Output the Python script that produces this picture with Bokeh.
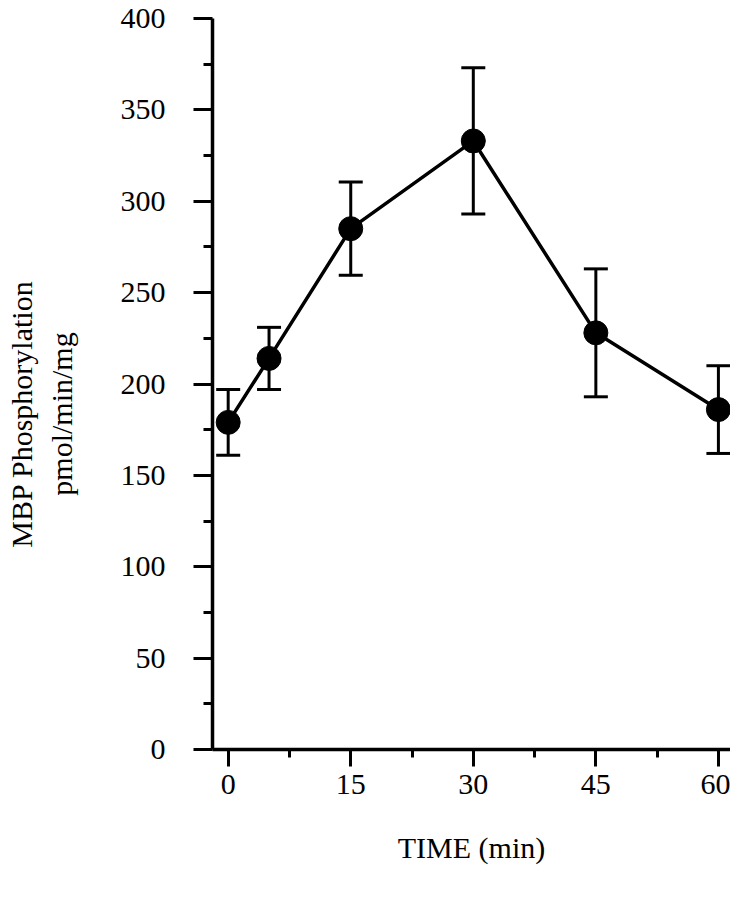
from bokeh.plotting import figure
from bokeh.models import ColumnDataSource, Whisker, TeeHead, FixedTicker, Range1d
from bokeh.embed import file_html
from bokeh.resources import INLINE

# Data
time_min = [0, 5, 15, 30, 45, 60]
mbp = [179, 214, 285, 333, 228, 186]
err = [18, 17, 25.5, 40, 35, 24]

x_ticks = [0, 15, 30, 45, 60]
x_minor = [7.5, 22.5, 37.5, 52.5]
y_ticks = [0, 50, 100, 150, 200, 250, 300, 350, 400]
y_minor = [25, 75, 125, 175, 225, 275, 325, 375]

upper = [m + e for m, e in zip(mbp, err)]
lower = [m - e for m, e in zip(mbp, err)]
src = ColumnDataSource(dict(x=time_min, y=mbp, upper=upper, lower=lower))

FONT = "Liberation Serif"

p = figure(width=730, height=889, output_backend="svg", toolbar_location=None,
           x_range=Range1d(-1.92, 61.48), y_range=Range1d(0, 400),
           min_border_left=212, min_border_top=18, min_border_right=0,
           min_border_bottom=140)
p.outline_line_color = None
p.xgrid.grid_line_color = None
p.ygrid.grid_line_color = None

p.line('x', 'y', source=src, line_width=3.5, line_color="black")
w = Whisker(base='x', upper='upper', lower='lower', source=src, dimension="height",
            line_width=3, line_color="black",
            upper_head=TeeHead(size=24, line_width=3, line_color="black"),
            lower_head=TeeHead(size=24, line_width=3, line_color="black"))
p.add_layout(w)
p.scatter('x', 'y', source=src, size=24, fill_color="black", line_color="black")

p.xaxis.ticker = FixedTicker(ticks=x_ticks, minor_ticks=x_minor)
p.yaxis.ticker = FixedTicker(ticks=y_ticks, minor_ticks=y_minor)

for ax in (p.xaxis, p.yaxis):
    ax.axis_line_width = 3.5
    ax.axis_line_color = "black"
    ax.major_tick_line_width = 3
    ax.minor_tick_line_width = 3
    ax.major_tick_line_color = "black"
    ax.minor_tick_line_color = "black"
    ax.major_tick_in = 0
    ax.minor_tick_in = 0
    ax.major_label_text_font = FONT
    ax.major_label_text_font_size = "30px"
    ax.major_label_text_color = "black"
    ax.axis_label_text_font = FONT
    ax.axis_label_text_font_size = "30px"
    ax.axis_label_text_font_style = "normal"
    ax.axis_label_text_color = "black"

p.xaxis.major_tick_out = 17
p.xaxis.minor_tick_out = 8
p.yaxis.major_tick_out = 19
p.yaxis.minor_tick_out = 9
p.xaxis.major_label_standoff = 8
p.yaxis.major_label_standoff = 28

p.xaxis.axis_label = "TIME (min)"
p.xaxis.axis_label_standoff = 34
pad = "\u00a0" * 8
p.yaxis.axis_label = "MBP Phosphorylation" + pad + "\npmol/min/mg" + pad
p.yaxis.axis_label_standoff = 40

open("out.html", "w").write(file_html(p, INLINE))
